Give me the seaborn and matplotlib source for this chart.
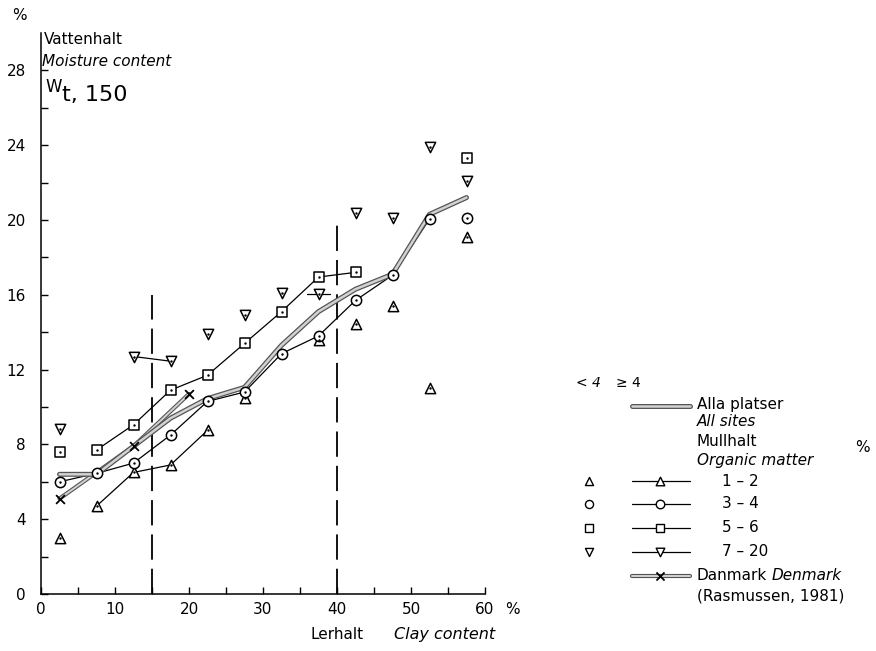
import numpy as np
import pandas as pd
import matplotlib
matplotlib.use("Agg")
import matplotlib.pyplot as plt
import matplotlib.patheffects as pe
import seaborn as sns

# Class midpoints of clay content (%)
clay_mid = [2.5, 7.5, 12.5, 17.5, 22.5, 27.5, 32.5, 37.5, 42.5, 47.5, 52.5, 57.5]

# Moisture content w_t,150 (%) per organic-matter class; n4 = 1 where n >= 4
om_1_2 = [3.0, 4.7, 6.5, 6.9, 8.75, 10.5, np.nan, 13.6, 14.45, 15.4, 11.0, 19.1]
om_1_2_n4 = [0, 1, 1, 1, 1, 0, 0, 0, 0, 0, 0, 0]
om_3_4 = [6.0, 6.45, 7.0, 8.5, 10.3, 10.8, 12.85, 13.8, 15.7, 17.05, 20.05, 20.1]
om_3_4_n4 = [1, 1, 1, 1, 1, 1, 1, 1, 1, 1, 1, 0]
om_5_6 = [7.6, 7.7, 9.05, 10.9, 11.7, 13.4, 15.1, 16.95, 17.2, np.nan, np.nan, 23.3]
om_5_6_n4 = [0, 1, 1, 1, 1, 1, 1, 1, 1, 0, 0, 0]
om_7_20 = [8.85, np.nan, 12.7, 12.45, 13.9, 14.9, 16.1, 16.05, 20.4, 20.1, 23.9, 22.1]
om_7_20_n4 = [0, 0, 1, 1, 0, 0, 0, 1, 0, 0, 0, 0]

# All sites together
all_sites = [6.4, 6.4, 7.9, 9.4, 10.45, 11.05, 13.3, 15.1, 16.3, 17.1, 20.3, 21.2]

# Danish reference curve (Rasmussen, 1981)
denmark_clay = [2.5, 12.5, 20.0]
denmark_w = [5.1, 7.9, 10.7]

# Clay-class boundaries shown as dashed verticals, with their heights
boundary_clay = [15, 40]
boundary_top = [16, 20]

x_ticks = [0, 10, 20, 30, 40, 50, 60]
y_ticks = [0, 4, 8, 12, 16, 20, 24, 28]

sns.set_style("ticks")
plt.rcParams["font.family"] = ["DejaVu Sans"]
plt.rcParams["text.color"] = "black"
plt.rcParams["xtick.color"] = "black"
plt.rcParams["ytick.color"] = "black"

W, H = 876, 651
fig = plt.figure(figsize=(W / 100, H / 100), dpi=100)
ax = fig.add_axes([41 / W, 57 / H, 444 / W, 561 / H])

BLACK = "black"
FILL = "#d2d2d2"
double_fx = [pe.Stroke(linewidth=3.6, foreground="#555555"),
             pe.Stroke(linewidth=1.8, foreground=FILL)]
dk_fx = [pe.Stroke(linewidth=3.0, foreground="#555555"),
         pe.Stroke(linewidth=1.4, foreground=FILL)]

series = [
    (om_1_2, om_1_2_n4, "^"),
    (om_3_4, om_3_4_n4, "o"),
    (om_5_6, om_5_6_n4, "s"),
    (om_7_20, om_7_20_n4, "v"),
]

for vals, n4, mk in series:
    seg_rows = []
    seg = 0
    for i in range(len(clay_mid) - 1):
        a, b = vals[i], vals[i + 1]
        if n4[i] and n4[i + 1] and not np.isnan(a) and not np.isnan(b):
            seg_rows.append((clay_mid[i], a, seg))
            seg_rows.append((clay_mid[i + 1], b, seg))
            seg += 1
    # stand-alone points with n >= 4 get a short line stub
    for i, v in enumerate(vals):
        if not n4[i] or np.isnan(v):
            continue
        left = i > 0 and n4[i - 1] and not np.isnan(vals[i - 1])
        right = i < len(vals) - 1 and n4[i + 1] and not np.isnan(vals[i + 1])
        if not left and not right:
            seg_rows.append((clay_mid[i] - 1.5, v, seg))
            seg_rows.append((clay_mid[i] + 1.5, v, seg))
            seg += 1
    if seg_rows:
        seg_df = pd.DataFrame(seg_rows, columns=["clay", "w", "seg"])
        sns.lineplot(data=seg_df, x="clay", y="w", units="seg", estimator=None,
                     sort=False, color=BLACK, lw=0.9, ax=ax, zorder=2)
    pts = pd.DataFrame({"clay": clay_mid, "w": vals}).dropna()
    sns.scatterplot(data=pts, x="clay", y="w", marker=mk, s=55, facecolor="white",
                    edgecolor=BLACK, linewidth=1.1, ax=ax, zorder=5)
    sns.scatterplot(data=pts, x="clay", y="w", marker="o", s=3, color=BLACK,
                    linewidth=0, ax=ax, zorder=6)

all_df = pd.DataFrame({"clay": clay_mid, "w": all_sites})
sns.lineplot(data=all_df, x="clay", y="w", color=FILL, lw=1.8, ax=ax,
             zorder=4, path_effects=double_fx)

dk_df = pd.DataFrame({"clay": denmark_clay, "w": denmark_w})
sns.lineplot(data=dk_df, x="clay", y="w", color=FILL, lw=1.4, ax=ax,
             zorder=3, path_effects=dk_fx)
sns.scatterplot(data=dk_df, x="clay", y="w", marker="x", s=40, color=BLACK,
                linewidth=1.3, ax=ax, zorder=6)

for bx, top in zip(boundary_clay, boundary_top):
    ax.vlines(bx, 0, top, colors=BLACK, linestyles=(0, (14, 5)), lw=1.3, zorder=1)

ax.set_xlim(0, 60)
ax.set_ylim(0, 30)
ax.set_xticks(x_ticks)
ax.set_xticklabels([str(t) for t in x_ticks])
ax.set_xticks(np.arange(5, 60, 10), minor=True)
ax.set_yticks(y_ticks)
ax.set_yticklabels([str(t) for t in y_ticks])
ax.set_yticks(np.arange(2, 30, 4), minor=True)
ax.tick_params(axis="both", which="both", direction="in", length=5, width=1,
               labelsize=11, colors=BLACK)
ax.tick_params(axis="y", which="major", pad=11)
ax.tick_params(axis="x", which="major", pad=6)
ax.set_xlabel("")
ax.set_ylabel("")
sns.despine(ax=ax)
for s in ("left", "bottom"):
    ax.spines[s].set_linewidth(1.1)
    ax.spines[s].set_color(BLACK)
ax.patch.set_alpha(0)

# overlay in pixel coordinates for titles and the key
lax = fig.add_axes([0, 0, 1, 1])
lax.set_xlim(0, W)
lax.set_ylim(H, 0)
lax.axis("off")

fs = 11
lax.text(19, 16, "%", fontsize=fs, ha="center", va="center")
lax.text(44, 40, "Vattenhalt", fontsize=fs, va="center")
lax.text(42, 62, "Moisture content", fontsize=fs, style="italic", va="center")
lax.text(45, 87, "W", fontsize=12, va="center")
lax.text(62, 95, "t, 150", fontsize=16, va="center")
lax.text(505, 609, "%", fontsize=fs, ha="left", va="center")
lax.text(311, 639, "Lerhalt", fontsize=fs, va="baseline")
lax.text(394, 639, "Clay content", fontsize=11.5, style="italic", va="baseline")

# key
lax.text(588, 383, "< 4", fontsize=10, ha="center", va="center", style="italic")
lax.text(628, 383, "≥ 4", fontsize=10, ha="center", va="center")

lx0, lx1, lxm = 632, 690, 660
lax.plot([lx0, lx1], [406, 406], color=FILL, lw=1.8, path_effects=double_fx)
lax.text(697, 404, "Alla platser", fontsize=fs, va="center")
lax.text(697, 421, "All sites", fontsize=fs, style="italic", va="center")
lax.text(697, 442, "Mullhalt", fontsize=fs, va="center")
lax.text(697, 461, "Organic matter", fontsize=fs, style="italic", va="center")
lax.text(862, 447, "%", fontsize=fs, va="center", ha="center")

key_rows = [("^", "1 – 2", 481), ("o", "3 – 4", 504), ("s", "5 – 6", 528), ("v", "7 – 20", 552)]
for mk, lab, yy in key_rows:
    lax.scatter([589], [yy], marker=mk, s=34, facecolor="white", edgecolor=BLACK, lw=1.0, zorder=5)
    lax.plot([lx0, lx1], [yy, yy], color=BLACK, lw=0.9)
    lax.scatter([lxm], [yy], marker=mk, s=38, facecolor="white", edgecolor=BLACK, lw=1.0, zorder=5)
    lax.text(722, yy, lab, fontsize=fs, va="center")

lax.plot([lx0, lx1], [576, 576], color=FILL, lw=1.4, path_effects=dk_fx)
lax.scatter([lxm], [576], marker="x", s=34, color=BLACK, lw=1.3, zorder=5)
lax.text(697, 580, "Danmark", fontsize=fs, va="baseline")
lax.text(772, 580, "Denmark", fontsize=fs, style="italic", va="baseline")
lax.text(697, 596, "(Rasmussen, 1981)", fontsize=fs, va="center")

fig.savefig("out.png", dpi=100, facecolor="white")
